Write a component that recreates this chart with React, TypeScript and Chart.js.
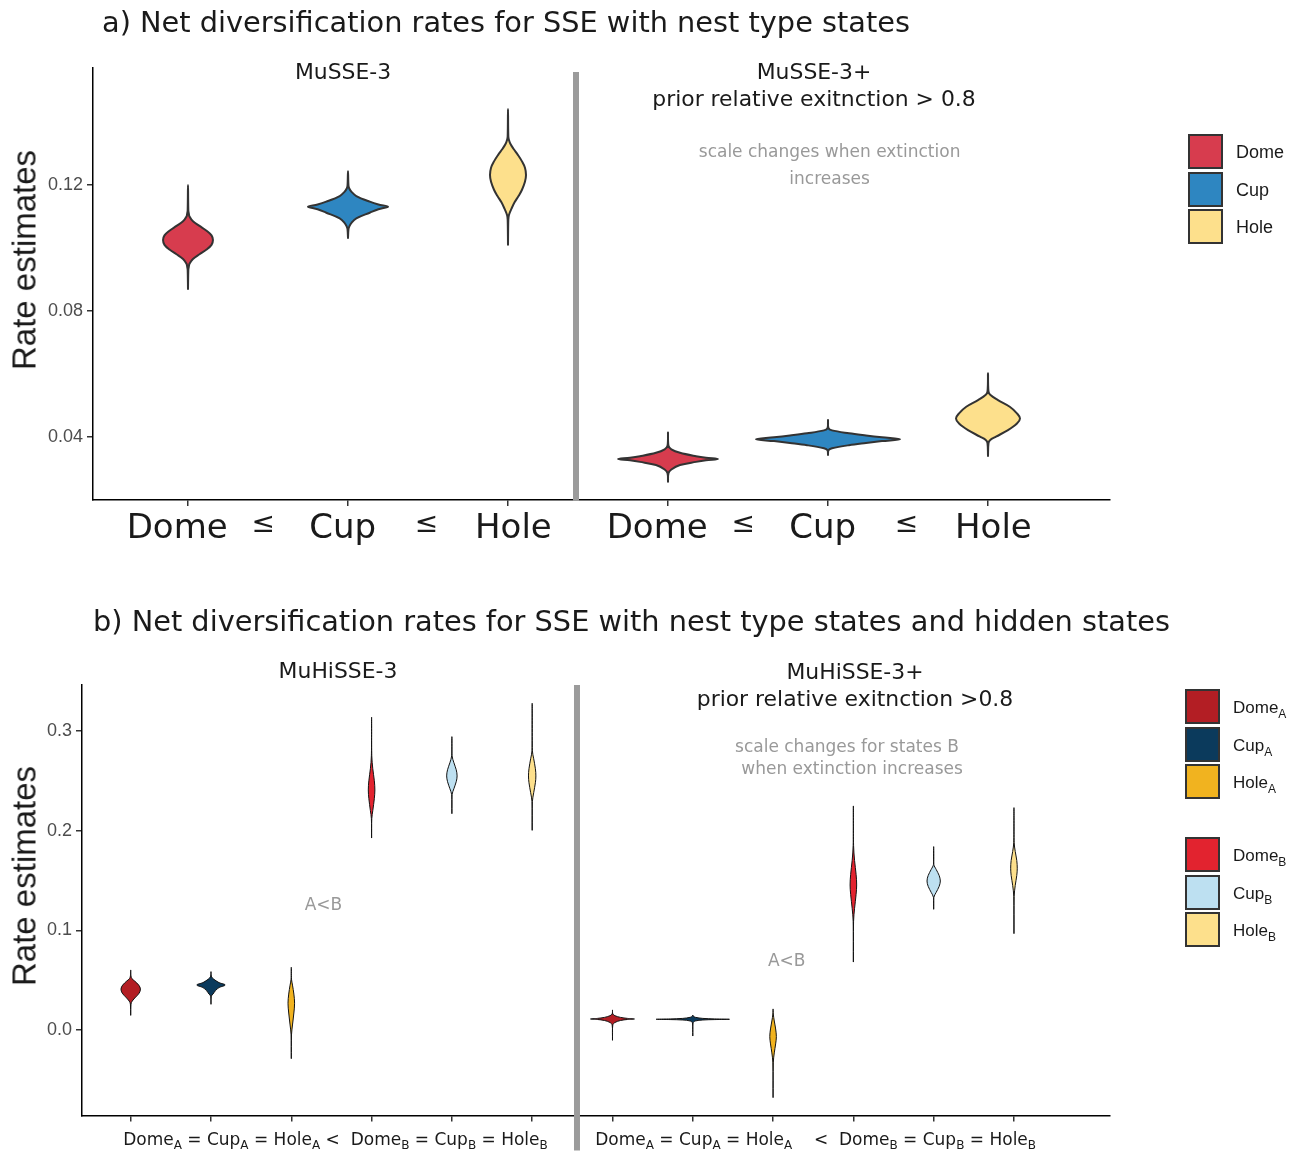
import React, { useEffect, useRef } from "react";
import { Chart, registerables } from "chart.js";
Chart.register(...registerables);

// ================= Panel a data =================
const groupLabelsA = ["Dome  ", "Cup ", " Hole", "Dome  ", "Cup ", " Hole"];
const positionsA = [1, 2, 3, 4, 5, 6];
const yTicksA = [0.04, 0.08, 0.12];
const legendA = ["Dome", "Cup", "Hole"];

// each violin: rate values (y) and half-width of the density (x-axis units)
const mu3DomeY = [0.087, 0.093, 0.094, 0.095, 0.0965, 0.098, 0.0995, 0.101, 0.1025, 0.104, 0.1055, 0.107, 0.1085, 0.11, 0.111, 0.112, 0.12];
const mu3DomeW = [0, 0.002, 0.005, 0.0094, 0.031, 0.072, 0.116, 0.147, 0.156, 0.147, 0.116, 0.072, 0.031, 0.0094, 0.005, 0.002, 0];
const mu3CupY = [0.1032, 0.106, 0.1068, 0.108, 0.1094, 0.1112, 0.1123, 0.1131, 0.1138, 0.1147, 0.1165, 0.1178, 0.1189, 0.1198, 0.1244];
const mu3CupW = [0, 0.003, 0.008, 0.022, 0.052, 0.136, 0.19, 0.25, 0.19, 0.136, 0.052, 0.022, 0.008, 0.003, 0];
const mu3HoleY = [0.101, 0.109, 0.1105, 0.1125, 0.1145, 0.1165, 0.1185, 0.121, 0.1232, 0.1255, 0.1275, 0.1295, 0.1315, 0.133, 0.1343, 0.1355, 0.1441];
const mu3HoleW = [0, 0.002, 0.006, 0.022, 0.041, 0.066, 0.0875, 0.106, 0.1125, 0.106, 0.0875, 0.0625, 0.034, 0.0156, 0.006, 0.002, 0];

const mu3pDomeY = [0.0258, 0.0285, 0.0297, 0.0311, 0.0321, 0.0326, 0.033, 0.0334, 0.0339, 0.035, 0.0361, 0.0372, 0.0414];
const mu3pDomeW = [0, 0.003, 0.021, 0.075, 0.175, 0.2375, 0.3125, 0.2375, 0.175, 0.075, 0.021, 0.003, 0];
const mu3pCupY = [0.0343, 0.0358, 0.0364, 0.0374, 0.0381, 0.0387, 0.0393, 0.0399, 0.0405, 0.0412, 0.0421, 0.0428, 0.0454];
const mu3pCupW = [0, 0.003, 0.025, 0.131, 0.2375, 0.3375, 0.45, 0.3375, 0.2375, 0.131, 0.025, 0.003, 0];
const mu3pHoleY = [0.034, 0.038, 0.039, 0.0401, 0.0422, 0.0443, 0.0459, 0.0475, 0.0496, 0.0517, 0.0533, 0.0545, 0.0602];
const mu3pHoleW = [0, 0.003, 0.0125, 0.05, 0.125, 0.181, 0.2, 0.181, 0.136, 0.0625, 0.0156, 0.003, 0];

// annotations of panel a (data coordinates)
const dividerA = 3.425;
const leqPositionsA = [1.47, 2.49, 4.47, 5.49];
const notesA = [
  { x: 5.01, y: 0.1302, text: "scale changes when extinction" },
  { x: 5.01, y: 0.1216, text: "increases" },
];

// ================= Panel b data =================
const positionsB = [1, 2, 3, 4, 5, 6, 7, 8, 9, 10, 11, 12];
const yTicksB = [0.0, 0.1, 0.2, 0.3];
const legendB: [string, string][] = [["Dome", "A"], ["Cup", "A"], ["Hole", "A"], ["Dome", "B"], ["Cup", "B"], ["Hole", "B"]];

const hiDomeAY = [0.015, 0.026, 0.029, 0.033, 0.037, 0.0411, 0.045, 0.049, 0.0515, 0.054, 0.0602];
const hiDomeAW = [0, 0.004, 0.019, 0.062, 0.106, 0.121, 0.1, 0.05, 0.015, 0.004, 0];
const hiCupAY = [0.0261, 0.034, 0.036, 0.0395, 0.0425, 0.0451, 0.0475, 0.05, 0.052, 0.054, 0.0585];
const hiCupAW = [0, 0.004, 0.025, 0.056, 0.1, 0.177, 0.1, 0.05, 0.019, 0.004, 0];
const hiHoleAY = [-0.0284, -0.005, 0.005, 0.017, 0.0268, 0.036, 0.045, 0.051, 0.0629];
const hiHoleAW = [0, 0.0025, 0.015, 0.032, 0.041, 0.032, 0.015, 0.0025, 0];
const hiDomeBY = [0.1929, 0.212, 0.22, 0.232, 0.2407, 0.25, 0.262, 0.275, 0.3137];
const hiDomeBW = [0, 0.0025, 0.015, 0.034, 0.041, 0.034, 0.015, 0.0025, 0];
const hiCupBY = [0.2173, 0.236, 0.242, 0.249, 0.2548, 0.261, 0.268, 0.275, 0.2942];
const hiCupBW = [0, 0.0025, 0.025, 0.054, 0.065, 0.054, 0.025, 0.0025, 0];
const hiHoleBY = [0.2006, 0.229, 0.238, 0.248, 0.2548, 0.262, 0.272, 0.28, 0.3277];
const hiHoleBW = [0, 0.0025, 0.019, 0.04, 0.046, 0.04, 0.019, 0.0025, 0];

const hipDomeAY = [-0.01, 0.005, 0.0075, 0.0095, 0.0105, 0.011, 0.0116, 0.0126, 0.0143, 0.016, 0.0201];
const hipDomeAW = [0, 0.004, 0.031, 0.1, 0.187, 0.274, 0.187, 0.1, 0.031, 0.004, 0];
const hipCupAY = [-0.0057, 0.007, 0.009, 0.01, 0.0104, 0.0107, 0.0111, 0.0116, 0.0127, 0.014, 0.015];
const hipCupAW = [0, 0.004, 0.031, 0.125, 0.274, 0.457, 0.274, 0.125, 0.031, 0.004, 0];
const hipHoleAY = [-0.0675, -0.033, -0.023, -0.014, -0.0067, 0.001, 0.009, 0.016, 0.0211];
const hipHoleAW = [0, 0.0025, 0.015, 0.032, 0.041, 0.032, 0.015, 0.0025, 0];
const hipDomeBY = [0.0685, 0.109, 0.122, 0.136, 0.1454, 0.156, 0.17, 0.185, 0.2247];
const hipDomeBW = [0, 0.0025, 0.015, 0.034, 0.041, 0.034, 0.015, 0.0025, 0];
const hipCupBY = [0.1214, 0.133, 0.138, 0.144, 0.1494, 0.155, 0.161, 0.166, 0.1839];
const hipCupBW = [0, 0.0025, 0.031, 0.068, 0.083, 0.068, 0.031, 0.0025, 0];
const hipHoleBY = [0.097, 0.134, 0.145, 0.155, 0.1622, 0.17, 0.179, 0.188, 0.223];
const hipHoleBW = [0, 0.0025, 0.016, 0.035, 0.041, 0.035, 0.016, 0.0025, 0];

const dividerB = 6.558;
const notesB = [
  { x: 3.4, y: 0.1244, text: "A<B" },
  { x: 9.17, y: 0.0682, text: "A<B" },
  { x: 9.92, y: 0.2828, text: "scale changes for states B" },
  { x: 9.95, y: 0.2608, text: " when extinction increases" },
];
const axisTextB: { x: number; parts: [string, boolean][] }[] = [
  {
    x: 3.55,
    parts: [["Dome", false], ["A", true], [" = Cup", false], ["A", true], [" = Hole", false], ["A", true], [" <  Dome", false], ["B", true], [" = Cup", false], ["B", true], [" = Hole", false], ["B", true]],
  },
  {
    x: 9.53,
    parts: [["Dome", false], ["A", true], [" = Cup", false], ["A", true], [" = Hole", false], ["A", true], ["    <  Dome", false], ["B", true], [" = Cup", false], ["B", true], [" = Hole", false], ["B", true]],
  },
];

// ================= colours =================
const cDome = "#d73c4e";
const cCup = "#2e86c1";
const cHole = "#fde08c";
const cDomeA = "#b31e24";
const cCupA = "#0b3a5c";
const cHoleA = "#f1b31f";
const cDomeB = "#e2232f";
const cCupB = "#bde0f1";
const cHoleB = "#fde08c";
const legendColorsA = [cDome, cCup, cHole];
const legendColorsB = [cDomeA, cCupA, cHoleA, cDomeB, cCupB, cHoleB];

type Violin = { pos: number; ys: number[]; ws: number[]; color: string };

const violinsA: Violin[] = [
  { pos: positionsA[0], ys: mu3DomeY, ws: mu3DomeW, color: cDome },
  { pos: positionsA[1], ys: mu3CupY, ws: mu3CupW, color: cCup },
  { pos: positionsA[2], ys: mu3HoleY, ws: mu3HoleW, color: cHole },
  { pos: positionsA[3], ys: mu3pDomeY, ws: mu3pDomeW, color: cDome },
  { pos: positionsA[4], ys: mu3pCupY, ws: mu3pCupW, color: cCup },
  { pos: positionsA[5], ys: mu3pHoleY, ws: mu3pHoleW, color: cHole },
];
const violinsB: Violin[] = [
  { pos: positionsB[0], ys: hiDomeAY, ws: hiDomeAW, color: cDomeA },
  { pos: positionsB[1], ys: hiCupAY, ws: hiCupAW, color: cCupA },
  { pos: positionsB[2], ys: hiHoleAY, ws: hiHoleAW, color: cHoleA },
  { pos: positionsB[3], ys: hiDomeBY, ws: hiDomeBW, color: cDomeB },
  { pos: positionsB[4], ys: hiCupBY, ws: hiCupBW, color: cCupB },
  { pos: positionsB[5], ys: hiHoleBY, ws: hiHoleBW, color: cHoleB },
  { pos: positionsB[6], ys: hipDomeAY, ws: hipDomeAW, color: cDomeA },
  { pos: positionsB[7], ys: hipCupAY, ws: hipCupAW, color: cCupA },
  { pos: positionsB[8], ys: hipHoleAY, ws: hipHoleAW, color: cHoleA },
  { pos: positionsB[9], ys: hipDomeBY, ws: hipDomeBW, color: cDomeB },
  { pos: positionsB[10], ys: hipCupBY, ws: hipCupBW, color: cCupB },
  { pos: positionsB[11], ys: hipHoleBY, ws: hipHoleBW, color: cHoleB },
];

function outline(pos: number, ys: number[], ws: number[]) {
  const pts = ys.map((y, i) => ({ x: pos + ws[i], y }));
  for (let i = ys.length - 2; i >= 0; i--) pts.push({ x: pos - ws[i], y: ys[i] });
  return pts;
}

function datasetsFor(vs: Violin[], stroke: string, width: number) {
  return vs.map((v) => ({
    data: outline(v.pos, v.ys, v.ws),
    backgroundColor: v.color,
    borderColor: stroke,
    borderWidth: width,
    fill: "shape",
    pointRadius: 0,
    pointHoverRadius: 0,
    tension: 0.35,
    borderJoinStyle: "round",
    borderCapStyle: "round",
  }));
}

const SANS = "DejaVu Sans";
const ARIAL = "Liberation Sans";

const overlayA = {
  id: "overlayA",
  afterDraw(chart: any) {
    const { ctx, chartArea } = chart;
    const xs = chart.scales.x;
    const ys = chart.scales.y;
    ctx.save();
    const dx = xs.getPixelForValue(dividerA);
    ctx.strokeStyle = "#9b9b9b";
    ctx.lineWidth = 6;
    ctx.beginPath();
    ctx.moveTo(dx, chartArea.top + 4);
    ctx.lineTo(dx, chartArea.bottom + 1);
    ctx.stroke();
    ctx.fillStyle = "#1a1a1a";
    ctx.font = `28px "${SANS}"`;
    ctx.textAlign = "center";
    ctx.textBaseline = "middle";
    leqPositionsA.forEach((v) => ctx.fillText("≤", xs.getPixelForValue(v), chartArea.bottom + 25));
    ctx.fillStyle = "#999999";
    ctx.font = `17px "${SANS}"`;
    notesA.forEach((n) => ctx.fillText(n.text, xs.getPixelForValue(n.x), ys.getPixelForValue(n.y)));
    ctx.restore();
  },
};

const overlayB = {
  id: "overlayB",
  afterDraw(chart: any) {
    const { ctx, chartArea } = chart;
    const xs = chart.scales.x;
    const ys = chart.scales.y;
    ctx.save();
    const dx = xs.getPixelForValue(dividerB);
    ctx.strokeStyle = "#9b9b9b";
    ctx.lineWidth = 6;
    ctx.beginPath();
    ctx.moveTo(dx, chartArea.top);
    ctx.lineTo(dx, chartArea.bottom + 35);
    ctx.stroke();
    ctx.fillStyle = "#999999";
    ctx.font = `17px "${SANS}"`;
    ctx.textAlign = "center";
    ctx.textBaseline = "middle";
    notesB.forEach((n) => ctx.fillText(n.text, xs.getPixelForValue(n.x), ys.getPixelForValue(n.y)));
    // axis text with subscripts
    const mainFont = `17px "${SANS}"`;
    const subFont = `12px "${SANS}"`;
    ctx.fillStyle = "#1a1a1a";
    ctx.textAlign = "left";
    ctx.textBaseline = "alphabetic";
    const base = chartArea.bottom + 29;
    axisTextB.forEach((t) => {
      let total = 0;
      t.parts.forEach(([s, sub]) => {
        ctx.font = sub ? subFont : mainFont;
        total += ctx.measureText(s).width;
      });
      let cx = xs.getPixelForValue(t.x) - total / 2;
      t.parts.forEach(([s, sub]) => {
        ctx.font = sub ? subFont : mainFont;
        ctx.fillText(s, cx, sub ? base + 4 : base);
        cx += ctx.measureText(s).width;
      });
    });
    ctx.restore();
  },
};

function makeConfig(o: any) {
  return {
    type: "line",
    data: { datasets: datasetsFor(o.violins, o.stroke, o.strokeWidth) },
    options: {
      animation: false,
      responsive: false,
      maintainAspectRatio: false,
      events: [],
      layout: { padding: { top: o.padTop, right: o.padRight, bottom: 0, left: 0 } },
      plugins: { legend: { display: false }, tooltip: { enabled: false }, title: { display: false } },
      scales: {
        x: {
          type: "linear",
          min: o.xMin,
          max: o.xMax,
          afterBuildTicks: (s: any) => {
            s.ticks = o.xTicks.map((v: number) => ({ value: v }));
          },
          afterFit: (s: any) => {
            s.height = o.xAxisHeight;
          },
          ticks: {
            autoSkip: false,
            maxRotation: 0,
            minRotation: 0,
            padding: o.xTickPad,
            font: o.xFont,
            color: "#1a1a1a",
            callback: (_v: any, i: number) => (o.xLabels[i] ?? ""),
          },
          grid: { drawOnChartArea: false, drawTicks: true, tickLength: o.tickLen, color: "#333333", lineWidth: 1.5 },
          border: { display: true, color: "#000000", width: 1.5 },
        },
        y: {
          type: "linear",
          min: o.yMin,
          max: o.yMax,
          afterBuildTicks: (s: any) => {
            s.ticks = o.yTicks.map((v: number) => ({ value: v }));
          },
          afterFit: (s: any) => {
            s.width = o.yAxisWidth;
          },
          ticks: {
            padding: o.yTickPad,
            font: { family: ARIAL, size: 18 },
            color: "#4d4d4d",
            callback: (v: any) => Number(v).toFixed(o.yDecimals),
          },
          grid: { drawOnChartArea: false, drawTicks: true, tickLength: o.tickLen, color: "#333333", lineWidth: 1.5 },
          border: { display: true, color: "#000000", width: 1.5 },
        },
      },
    },
    plugins: [o.overlay],
  };
}

const configA = () =>
  makeConfig({
    violins: violinsA,
    stroke: "#333333",
    strokeWidth: 2,
    padTop: 68,
    padRight: 192,
    xMin: 0.40625,
    xMax: 6.7625,
    xTicks: positionsA,
    xLabels: groupLabelsA,
    xFont: { family: SANS, size: 34 },
    xTickPad: 3,
    xAxisHeight: 60,
    tickLen: 6,
    yMin: 0.02,
    yMax: 0.15714,
    yTicks: yTicksA,
    yDecimals: 2,
    yAxisWidth: 93,
    yTickPad: 4,
    overlay: overlayA,
  });

const configB = () =>
  makeConfig({
    violins: violinsB,
    stroke: "#111111",
    strokeWidth: 1,
    padTop: 125,
    padRight: 192,
    xMin: 0.3935,
    xMax: 13.196,
    xTicks: positionsB,
    xLabels: [],
    xFont: { family: SANS, size: 12 },
    xTickPad: 0,
    xAxisHeight: 35.5,
    tickLen: 6,
    yMin: -0.0858,
    yMax: 0.346,
    yTicks: yTicksB,
    yDecimals: 1,
    yAxisWidth: 82,
    yTickPad: 4,
    overlay: overlayB,
  });

function ChartCanvas({ make, top, height }: { make: () => any; top: number; height: number }) {
  const ref = useRef<HTMLCanvasElement>(null);
  useEffect(() => {
    const chart = new Chart(ref.current as HTMLCanvasElement, make());
    return () => chart.destroy();
  }, []);
  return (
    <canvas
      ref={ref}
      width={1302}
      height={height}
      style={{ position: "absolute", left: 0, top, width: 1302, height }}
    />
  );
}

function Txt(props: { x: number; y: number; size: number; center?: boolean; color?: string; family?: string; children: any }) {
  const { x, y, size, center, color = "#1a1a1a", family = SANS, children } = props;
  return (
    <div
      style={{
        position: "absolute",
        left: x,
        top: y,
        transform: center ? "translate(-50%, -50%)" : "translateY(-50%)",
        fontFamily: `"${family}"`,
        fontSize: size,
        color,
        whiteSpace: "pre",
        lineHeight: 1,
      }}
    >
      {children}
    </div>
  );
}

function YTitle({ y }: { y: number }) {
  return (
    <div
      style={{
        position: "absolute",
        left: 24,
        top: y,
        transform: "translate(-50%, -50%) rotate(-90deg)",
        fontFamily: `"${ARIAL}"`,
        fontSize: 33,
        color: "#1a1a1a",
        whiteSpace: "pre",
        lineHeight: 1,
      }}
    >
      Rate estimates
    </div>
  );
}

function LegendBox({ x, y, color }: { x: number; y: number; color: string }) {
  return (
    <div
      style={{
        position: "absolute",
        left: x,
        top: y,
        width: 35,
        height: 35,
        boxSizing: "border-box",
        border: "2px solid #333333",
        background: color,
      }}
    />
  );
}

export default function App() {
  const rowsB = [689, 726.5, 764, 837, 874.5, 912];
  return (
    <div style={{ position: "relative", width: 1302, height: 1151, overflow: "hidden", background: "#ffffff" }}>
      <style>{"body{margin:0;background:#fff}"}</style>
      <ChartCanvas make={configA} top={0} height={560} />
      <ChartCanvas make={configB} top={560} height={591} />

      <Txt x={102} y={22} size={28.8}>a) Net diversification rates for SSE with nest type states</Txt>
      <Txt x={93} y={621} size={28.8}>b) Net diversification rates for SSE with nest type states and hidden states</Txt>

      <Txt x={343} y={72} size={21.9} center>MuSSE-3</Txt>
      <Txt x={814} y={72} size={21.9} center>MuSSE-3+</Txt>
      <Txt x={814} y={99} size={21.9} center>prior relative exitnction &gt; 0.8</Txt>

      <Txt x={338} y={671} size={21.9} center>MuHiSSE-3</Txt>
      <Txt x={855} y={672} size={21.9} center>MuHiSSE-3+</Txt>
      <Txt x={855} y={699} size={21.9} center>prior relative exitnction &gt;0.8</Txt>

      <YTitle y={260} />
      <YTitle y={876} />

      {legendA.map((name, i) => (
        <React.Fragment key={name}>
          <LegendBox x={1188} y={134 + i * 37.5} color={legendColorsA[i]} />
          <Txt x={1236} y={134 + i * 37.5 + 18} size={18} family={ARIAL}>{name}</Txt>
        </React.Fragment>
      ))}

      {legendB.map(([name, sub], i) => (
        <React.Fragment key={name + sub}>
          <LegendBox x={1185} y={rowsB[i]} color={legendColorsB[i]} />
          <Txt x={1233} y={rowsB[i] + 18} size={17} family={ARIAL}>
            {name}
            <span style={{ fontSize: 12, position: "relative", top: 5 }}>{sub}</span>
          </Txt>
        </React.Fragment>
      ))}
    </div>
  );
}
